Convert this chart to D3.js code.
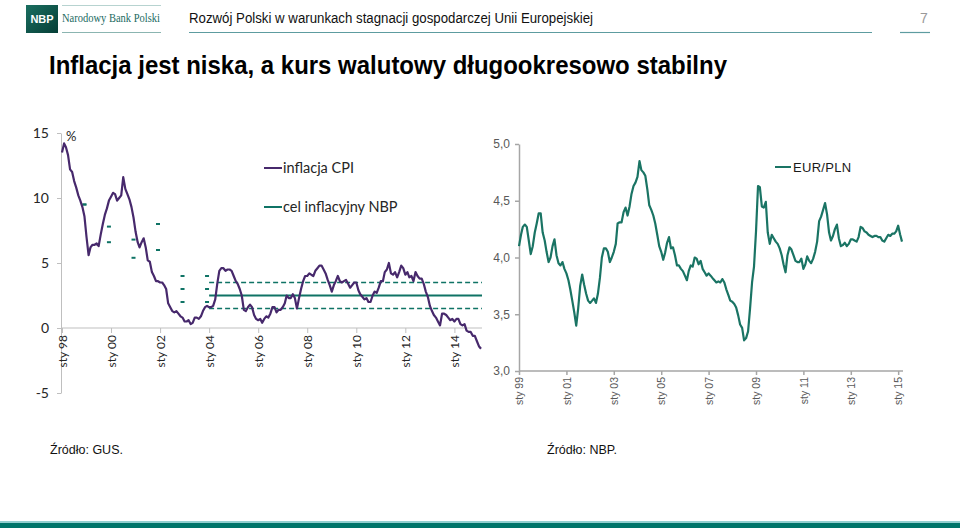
<!DOCTYPE html>
<html>
<head>
<meta charset="utf-8">
<script src="https://cdn.jsdelivr.net/npm/d3@7"></script>
<style>
  body { margin: 0; background: #fff; }
  svg { display: block; }
</style>
</head>
<body>
<div id="slide"></div>
<script>
// inflacja CPI r/r, miesięcznie od sty 1998 do lut 2015
const cpiStart = new Date(1998, 0, 1);
const cpi = [
  13.5, 14.2, 13.9, 13.3, 12.2, 12.0, 11.3, 10.8, 10.2, 9.8, 9.3, 8.6,
  7.0, 5.6, 6.2, 6.4, 6.4, 6.5, 6.3, 7.2, 8.0, 8.7, 9.2, 9.8,
  10.1, 10.4, 10.3, 9.8, 10.0, 10.2, 11.6, 10.7, 10.3, 9.9, 9.3, 8.5,
  7.4, 6.6, 6.2, 6.6, 6.9, 6.2, 5.2, 5.1, 4.3, 4.0, 3.6, 3.6,
  3.5, 3.5, 3.3, 3.0, 1.9, 1.6, 1.3, 1.2, 1.3, 1.1, 0.9, 0.8,
  0.5, 0.5, 0.6, 0.3, 0.4, 0.8, 0.8, 0.7, 0.9, 1.3, 1.6, 1.7,
  1.6, 1.6, 1.7, 2.2, 3.4, 4.4, 4.6, 4.6, 4.4, 4.5, 4.5, 4.4,
  4.0, 3.6, 3.4, 3.0, 2.5, 1.4, 1.3, 1.6, 1.8, 1.6, 1.0, 0.7,
  0.6, 0.7, 0.4, 0.7, 0.9, 0.8, 1.1, 1.6, 1.6, 1.2, 1.4, 1.4,
  1.6, 1.9, 2.5, 2.3, 2.3, 2.6, 2.3, 1.5, 2.3, 3.0, 3.6, 4.0,
  4.0, 4.2, 4.1, 4.0, 4.4, 4.6, 4.8, 4.8, 4.5, 4.2, 3.7, 3.3,
  2.8, 3.3, 3.6, 4.0, 3.6, 3.5, 3.6, 3.7, 3.4, 3.1, 3.3, 3.5,
  3.5, 2.9, 2.6, 2.4, 2.2, 2.3, 2.0, 2.0, 2.5, 2.8, 2.7, 3.1,
  3.6, 3.6, 4.3, 4.5, 5.0, 4.2, 4.1, 4.3, 3.9, 4.3, 4.8, 4.6,
  4.1, 4.3, 3.9, 4.0, 3.6, 4.3, 4.0, 3.8, 3.8, 3.4, 2.8, 2.4,
  1.7, 1.3, 1.0, 0.8, 0.5, 0.2, 1.1, 1.1, 1.0, 0.8, 0.6, 0.7,
  0.5, 0.7, 0.7, 0.3, 0.2, 0.3, -0.2, -0.3, -0.3, -0.6, -0.6, -1.0,
  -1.4, -1.6
];

// cele inflacyjne NBP na koniec roku (1998-2003)
const targetDates = ["1998-12", "1999-12", "2000-12", "2001-12", "2002-12", "2003-12"];
const targetLow = [9.5, 6.6, 5.4, 6.0, 2.0, 2.0];
const targetMid = [null, null, null, null, 3.0, 3.0];
const targetHigh = [9.5, 7.8, 6.8, 8.0, 4.0, 4.0];
// cel ciągły od 2004
const contTargetRange = ["2004-01", "2015-02"];
const contTarget = 2.5;
const contBand = [1.5, 3.5];

// EUR/PLN, średnie miesięczne od sty 1999 do mar 2015
const fxStart = new Date(1999, 0, 1);
const eurpln = [
  4.10, 4.20, 4.27, 4.29, 4.27, 4.15, 4.03, 4.10, 4.22, 4.30, 4.39, 4.39,
  4.22, 4.15, 4.05, 3.96, 4.00, 4.10, 4.16, 4.02, 3.95, 3.93, 3.96, 3.90,
  3.86, 3.80, 3.72, 3.62, 3.52, 3.40, 3.55, 3.75, 3.85, 3.76, 3.68, 3.62,
  3.60, 3.62, 3.64, 3.60, 3.68, 3.82, 4.00, 4.08, 4.08, 4.05, 3.96, 4.00,
  4.05, 4.12, 4.30, 4.31, 4.31, 4.40, 4.44, 4.37, 4.45, 4.56, 4.63, 4.66,
  4.71, 4.85, 4.77, 4.75, 4.72, 4.60, 4.46, 4.42, 4.37, 4.30, 4.20, 4.10,
  4.05, 3.98, 4.04, 4.13, 4.18, 4.08, 4.09, 4.02, 3.93, 3.93, 3.90, 3.88,
  3.84, 3.80, 3.88, 3.93, 3.92, 4.00, 3.99, 3.94, 3.97, 3.90, 3.87, 3.84,
  3.86, 3.84, 3.82, 3.80, 3.78, 3.79, 3.78, 3.81, 3.78, 3.72, 3.67, 3.62,
  3.61, 3.59, 3.56, 3.49, 3.41, 3.38, 3.27, 3.29, 3.35, 3.55, 3.78, 3.92,
  4.23, 4.63, 4.62, 4.45, 4.44, 4.49, 4.22, 4.12, 4.20, 4.17, 4.14, 4.12,
  4.08, 4.02, 3.94, 3.87, 4.02, 4.09, 4.07, 4.02, 3.97, 3.96, 3.96, 3.99,
  3.90, 3.94, 4.01, 3.97, 3.95, 3.99, 4.05, 4.14, 4.32, 4.36, 4.42, 4.48,
  4.38, 4.22, 4.15, 4.19, 4.25, 4.29, 4.17, 4.10, 4.11, 4.13, 4.10, 4.12,
  4.16, 4.16, 4.15, 4.14, 4.18, 4.27, 4.26, 4.23, 4.22, 4.20, 4.19, 4.18,
  4.19, 4.19, 4.18, 4.18, 4.15, 4.14, 4.17, 4.20, 4.19, 4.21, 4.21, 4.23,
  4.28, 4.20, 4.14
];

const cpiTicks = [-5, 0, 5, 10, 15];
const fxTicks = [3.0, 3.5, 4.0, 4.5, 5.0];

const purple = "#47296c";
const teal = "#0f7365";
const fxColor = "#1a7464";

const svg = d3.select("#slide").append("svg")
  .attr("width", 960).attr("height", 528);

// ---------- nagłówek ----------
const grad = svg.append("defs").append("linearGradient")
  .attr("id", "logoGrad").attr("x1", 0).attr("y1", 0).attr("x2", 1).attr("y2", 1);
grad.append("stop").attr("offset", "0%").attr("stop-color", "#1a6e60");
grad.append("stop").attr("offset", "100%").attr("stop-color", "#063f37");

svg.append("rect").attr("x", 26).attr("y", 5).attr("width", 32).attr("height", 28)
  .attr("fill", "url(#logoGrad)");
svg.append("text").attr("x", 42).attr("y", 22.5).attr("text-anchor", "middle")
  .attr("fill", "#fff").attr("font-family", "Liberation Sans, Arial, sans-serif")
  .attr("font-weight", "bold").attr("font-size", 11).text("NBP");
svg.append("line").attr("x1", 62).attr("x2", 161).attr("y1", 5.5).attr("y2", 5.5)
  .attr("stroke", "#b7d3d0").attr("stroke-width", 1);
svg.append("line").attr("x1", 62).attr("x2", 161).attr("y1", 32.5).attr("y2", 32.5)
  .attr("stroke", "#8bb5b1").attr("stroke-width", 1);
svg.append("text").attr("x", 62).attr("y", 22)
  .attr("fill", "#1b6a5f").attr("font-family", "Liberation Serif, Times New Roman, serif")
  .attr("font-size", 12.5).attr("textLength", 98).attr("lengthAdjust", "spacingAndGlyphs")
  .text("Narodowy Bank Polski");

svg.append("text").attr("x", 189).attr("y", 23)
  .attr("fill", "#111").attr("font-family", "Liberation Sans, Arial, sans-serif")
  .attr("font-size", 14).attr("textLength", 404).attr("lengthAdjust", "spacingAndGlyphs")
  .text("Rozwój Polski w warunkach stagnacji gospodarczej Unii Europejskiej");
svg.append("line").attr("x1", 189).attr("x2", 872).attr("y1", 32.5).attr("y2", 32.5)
  .attr("stroke", "#5d9ca0").attr("stroke-width", 1.2);
svg.append("text").attr("x", 924).attr("y", 23).attr("text-anchor", "middle")
  .attr("fill", "#999").attr("font-family", "Liberation Sans, Arial, sans-serif")
  .attr("font-size", 14).text("7");
svg.append("line").attr("x1", 900).attr("x2", 930).attr("y1", 32.5).attr("y2", 32.5)
  .attr("stroke", "#5d9ca0").attr("stroke-width", 1.2);

svg.append("text").attr("x", 49).attr("y", 74)
  .attr("fill", "#000").attr("font-family", "Liberation Sans, Arial, sans-serif")
  .attr("font-weight", "bold").attr("font-size", 26)
  .attr("textLength", 678).attr("lengthAdjust", "spacingAndGlyphs")
  .text("Inflacja jest niska, a kurs walutowy długookresowo stabilny");

// ---------- wykres lewy: inflacja ----------
const cpiData = cpi.map((v, i) => ({ date: d3.timeMonth.offset(cpiStart, i), value: v }));
const parseM = d3.timeParse("%Y-%m");

const xL = d3.scaleTime()
  .domain([cpiStart, cpiData[cpiData.length - 1].date])
  .range([62, 481]);
const yL = d3.scaleLinear().domain([-5, 15]).range([393, 133]);

const left = svg.append("g").attr("font-family", "Lato, 'Open Sans', sans-serif");

// oś Y
const yAxisL = left.append("g").attr("transform", "translate(61,0)")
  .call(d3.axisLeft(yL).tickValues(cpiTicks).tickSize(4).tickSizeOuter(0).tickPadding(8)
    .tickFormat(d => String(d)));
yAxisL.select(".domain").attr("stroke", "#bfbfbf");
yAxisL.selectAll(".tick line").attr("stroke", "#bfbfbf");
yAxisL.selectAll(".tick text").attr("font-size", 14).attr("fill", "#262626")
  .attr("font-family", "Lato, sans-serif");

// oś X na wysokości zera
const xAxisL = left.append("g").attr("transform", `translate(0,${yL(0)})`)
  .call(d3.axisBottom(xL).ticks(d3.timeYear.every(2)).tickSize(5).tickSizeOuter(0)
    .tickFormat(d => "sty " + d3.timeFormat("%y")(d)));
xAxisL.select(".domain").attr("stroke", "#bfbfbf").attr("d", `M61,0H482`);
xAxisL.selectAll(".tick line").attr("stroke", "#bfbfbf");
xAxisL.selectAll(".tick text")
  .attr("transform", "rotate(-90)")
  .attr("text-anchor", "end").attr("x", -7).attr("y", 0).attr("dy", "0.35em")
  .attr("font-size", 12).attr("fill", "#262626").attr("font-family", "Lato, sans-serif");

left.append("text").attr("x", 66).attr("y", 141)
  .attr("font-size", 13).attr("fill", "#262626").text("%");

// cele punktowe 1998-2003
const targetPts = [];
targetDates.forEach((d, i) => {
  [targetLow[i], targetMid[i], targetHigh[i]].forEach(v => {
    if (v !== null) targetPts.push({ date: parseM(d), value: v });
  });
});
left.selectAll(".tgt").data(targetPts).enter().append("line")
  .attr("class", "tgt")
  .attr("x1", d => xL(d.date) - 2).attr("x2", d => xL(d.date) + 2)
  .attr("y1", d => yL(d.value)).attr("y2", d => yL(d.value))
  .attr("stroke", teal).attr("stroke-width", 2);

// cel ciągły od 2004
const contX = contTargetRange.map(parseM);
left.append("line")
  .attr("x1", xL(contX[0])).attr("x2", xL(contX[1]) + 1)
  .attr("y1", yL(contTarget)).attr("y2", yL(contTarget))
  .attr("stroke", teal).attr("stroke-width", 2);
left.selectAll(".band").data(contBand).enter().append("line")
  .attr("class", "band")
  .attr("x1", xL(contX[0])).attr("x2", xL(contX[1]) + 1)
  .attr("y1", d => yL(d)).attr("y2", d => yL(d))
  .attr("stroke", teal).attr("stroke-width", 1.6).attr("stroke-dasharray", "5,3");

// linia CPI
const lineL = d3.line().x(d => xL(d.date)).y(d => yL(d.value));
left.append("path").datum(cpiData)
  .attr("d", lineL).attr("fill", "none")
  .attr("stroke", purple).attr("stroke-width", 2.2).attr("stroke-linejoin", "round");

// legenda
const legL = [
  { label: "inflacja CPI", color: purple, y: 168 },
  { label: "cel inflacyjny NBP", color: teal, y: 207 }
];
const lg = left.selectAll(".leg").data(legL).enter().append("g").attr("class", "leg");
lg.append("line").attr("x1", 264).attr("x2", 282)
  .attr("y1", d => d.y).attr("y2", d => d.y)
  .attr("stroke", d => d.color).attr("stroke-width", 2);
lg.append("text").attr("x", 283).attr("y", d => d.y).attr("dy", "0.35em")
  .attr("font-size", 14.5).attr("fill", "#262626").text(d => d.label);

// ---------- wykres prawy: EUR/PLN ----------
const fxData = eurpln.map((v, i) => ({ date: d3.timeMonth.offset(fxStart, i), value: v }));
const xR = d3.scaleTime()
  .domain([fxStart, fxData[fxData.length - 1].date])
  .range([519, 902]);
const yR = d3.scaleLinear().domain([3, 5]).range([371, 144]);

const right = svg.append("g").attr("font-family", "Liberation Sans, Arial, sans-serif");

const yAxisR = right.append("g").attr("transform", "translate(519,0)")
  .call(d3.axisLeft(yR).tickValues(fxTicks).tickSize(4).tickSizeOuter(0).tickPadding(5)
    .tickFormat(d => d3.format(".1f")(d).replace(".", ",")));
yAxisR.select(".domain").attr("stroke", "#a6a6a6").attr("stroke-width", 1.5);
yAxisR.selectAll(".tick line").attr("stroke", "#a6a6a6").attr("stroke-width", 1.5);
yAxisR.selectAll(".tick text").attr("font-size", 12).attr("fill", "#595959")
  .attr("font-family", "Liberation Sans, Arial, sans-serif");

const fxTickDates = d3.range(1999, 2016, 2).map(y => new Date(y, 0, 1));
const xAxisR = right.append("g").attr("transform", `translate(0,${yR(3)})`)
  .call(d3.axisBottom(xR).tickValues(fxTickDates).tickSize(4).tickSizeOuter(0)
    .tickFormat(d => "sty " + d3.timeFormat("%y")(d)));
xAxisR.select(".domain").attr("stroke", "#a6a6a6").attr("stroke-width", 1.5)
  .attr("d", "M519,0H903");
xAxisR.selectAll(".tick line").attr("stroke", "#a6a6a6").attr("stroke-width", 1.5);
xAxisR.selectAll(".tick text")
  .attr("transform", "rotate(-90)")
  .attr("text-anchor", "end").attr("x", -6).attr("y", 0).attr("dy", "0.35em")
  .attr("font-size", 10.5).attr("fill", "#595959")
  .attr("font-family", "Liberation Sans, Arial, sans-serif");

const lineR = d3.line().x(d => xR(d.date)).y(d => yR(d.value));
right.append("path").datum(fxData)
  .attr("d", lineR).attr("fill", "none")
  .attr("stroke", fxColor).attr("stroke-width", 2.2).attr("stroke-linejoin", "round");

right.append("line").attr("x1", 775).attr("x2", 791).attr("y1", 167).attr("y2", 167)
  .attr("stroke", fxColor).attr("stroke-width", 2);
right.append("text").attr("x", 793).attr("y", 167).attr("dy", "0.35em")
  .attr("font-size", 13).attr("fill", "#1a1a1a").attr("letter-spacing", 0.3).text("EUR/PLN");

// ---------- źródła i stopka ----------
const sources = [
  { x: 50, text: "Źródło: GUS." },
  { x: 547, text: "Źródło: NBP." }
];
svg.selectAll(".src").data(sources).enter().append("text")
  .attr("class", "src").attr("x", d => d.x).attr("y", 454)
  .attr("font-family", "Liberation Sans, Arial, sans-serif")
  .attr("font-size", 12.5).attr("fill", "#111").text(d => d.text);

svg.append("rect").attr("x", 0).attr("y", 521).attr("width", 960).attr("height", 2)
  .attr("fill", "#93cfd0");
svg.append("rect").attr("x", 0).attr("y", 523).attr("width", 960).attr("height", 5)
  .attr("fill", "#00756a");
</script>
</body>
</html>
